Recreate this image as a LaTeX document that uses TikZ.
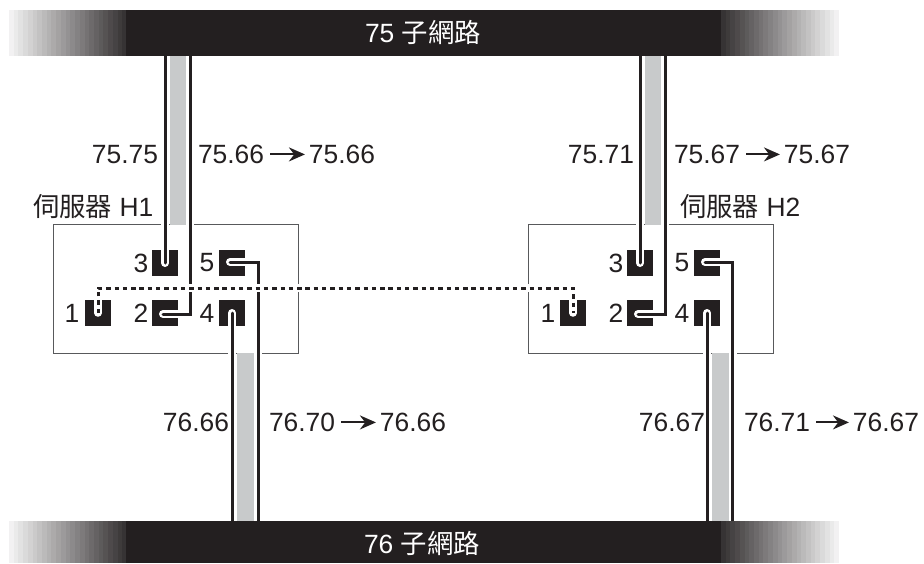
\documentclass[tikz,border=0pt]{standalone}
\usepackage{fontspec}
\setmainfont{Liberation Sans}
\newfontfamily\cjk{Noto Sans CJK TC}
\usetikzlibrary{arrows.meta}
\definecolor{ink}{HTML}{231F20}
\definecolor{strip}{HTML}{C8CACB}
\definecolor{frame}{HTML}{58595B}
\tikzset{
  x=1pt,y=-1pt,
  lbl/.style={inner sep=0pt,outer sep=0pt,text=ink,font=\fontsize{26.4}{30}\selectfont},
  barlbl/.style={lbl,text=white,anchor=base},
  portbox/.style={fill=ink,minimum size=26pt,inner sep=0pt,outer sep=0pt},
  srvbox/.style={draw=frame,line width=1pt,fill=white},
  wire/.style={draw=ink,line width=3pt,line cap=round,line join=miter,
    preaction={draw=white,line width=8pt,line cap=round}},
  gstrip/.style={fill=strip,draw=none},
  dotwire/.style={draw=ink,line width=3pt,dash pattern=on 4.4pt off 3.9pt,
    preaction={draw=white,solid,line width=7.5pt,line cap=round}},
  link/.style={draw=ink,line width=2pt,-{Stealth[length=16pt,width=14pt]},shorten >=4pt}
}
\begin{document}
\begin{tikzpicture}
\useasboundingbox (0,0) rectangle (924,563);
% server boxes
\draw[srvbox] (53,224.5) rectangle (298,353);
\draw[srvbox] (528,224.5) rectangle (773,353);
% grey strips
\fill[gstrip] (169.5,50) rectangle (186.5,225);
\fill[gstrip] (237,352.5) rectangle (253.5,525);
\fill[gstrip] (644.5,50) rectangle (661.5,225);
\fill[gstrip] (712,352.5) rectangle (728.5,525);
% ports H1
\node[portbox] (a1) at (98,313) {};
\node[portbox] (a2) at (165,313) {};
\node[portbox] (a3) at (165,263) {};
\node[portbox] (a4) at (232,313) {};
\node[portbox] (a5) at (232,263) {};
% ports H2
\node[portbox] (b1) at (573,313) {};
\node[portbox] (b2) at (640,313) {};
\node[portbox] (b3) at (640,263) {};
\node[portbox] (b4) at (707,313) {};
\node[portbox] (b5) at (707,263) {};
% free ends
\coordinate (ta3) at (165,40);
\coordinate (ta2) at (190,40);
\coordinate (ba4) at (232,540);
\coordinate (ba5) at (258,540);
\coordinate (tb3) at (640,40);
\coordinate (tb2) at (665,40);
\coordinate (bb4) at (707,540);
\coordinate (bb5) at (732.5,540);
\coordinate (ka) at (98,288);
\coordinate (kb) at (573,288);
% wires
\draw[wire] (ta3) -- (a3.center);
\draw[wire] (ta2) -- (190,314) -- (163,314);
\draw[wire] (a4.center) -- (ba4);
\draw[wire] (230,262) -- (258,262) -- (ba5);
\draw[wire] (tb3) -- (b3.center);
\draw[wire] (tb2) -- (665,314) -- (638,314);
\draw[wire] (b4.center) -- (bb4);
\draw[wire] (705,262) -- (732.5,262) -- (bb5);
% interconnect
\draw[dotwire] (a1.center) -- (ka) -- (kb) -- (b1.center);
% bars
\foreach \xa/\dir/\nm in {9/1/l,839/-1/r}{
  \foreach \i in {0,...,24}{
    \pgfmathsetmacro{\pc}{6+\i*3.55}
    \pgfmathsetmacro{\xs}{\xa+\dir*\i*4.72}
    \pgfmathsetmacro{\xe}{\xa+\dir*(\i+1.15)*4.72}
    \fill[ink!\pc!white] (\xs,10) rectangle (\xe,56);
    \fill[ink!\pc!white] (\xs,521) rectangle (\xe,563);
  }
}
\fill[ink] (126,10) rectangle (721,56);
\fill[ink] (126,521) rectangle (721,563);
\node[barlbl] (t75) at (423,42) {75 {\cjk 子網路}};
\node[barlbl] (t76) at (422,553) {76 {\cjk 子網路}};
% port numbers
\foreach \nm/\px/\py/\tx in {a1/72/313/1,a2/141/313/2,a3/141/263/3,a4/207/313/4,a5/207/263/5,
  b1/548/313/1,b2/616/313/2,b3/616/263/3,b4/682/313/4,b5/682/263/5}{
  \node[lbl] (n\nm) at (\px,\py) {\tx};
}
% server names
\node[lbl,anchor=base west] (h1) at (33,216) {{\cjk 伺服器} H1};
\node[lbl,anchor=base west] (h2) at (680,216) {{\cjk 伺服器} H2};
% address labels
\node[lbl,anchor=base east] (l1) at (158,163.5) {75.75};
\node[lbl,anchor=base west] (l2) at (198,163.5) {75.66};
\node[lbl,anchor=base east] (l3) at (375,163.5) {75.66};
\draw[link] (l2.east) ++(6,0) coordinate (s1) (s1) -- (l3.west);
\node[lbl,anchor=base east] (r1) at (634,163.5) {75.71};
\node[lbl,anchor=base west] (r2) at (674,163.5) {75.67};
\node[lbl,anchor=base east] (r3) at (850,163.5) {75.67};
\draw[link] (r2.east) ++(6,0) coordinate (s2) (s2) -- (r3.west);
\node[lbl,anchor=base east] (l4) at (229,431.5) {76.66};
\node[lbl,anchor=base west] (l5) at (269,431.5) {76.70};
\node[lbl,anchor=base east] (l6) at (446,431.5) {76.66};
\draw[link] (l5.east) ++(6,0) coordinate (s3) (s3) -- (l6.west);
\node[lbl,anchor=base east] (r4) at (705,431.5) {76.67};
\node[lbl,anchor=base west] (r5) at (744,431.5) {76.71};
\node[lbl,anchor=base east] (r6) at (919,431.5) {76.67};
\draw[link] (r5.east) ++(6,0) coordinate (s4) (s4) -- (r6.west);
\end{tikzpicture}
\end{document}
